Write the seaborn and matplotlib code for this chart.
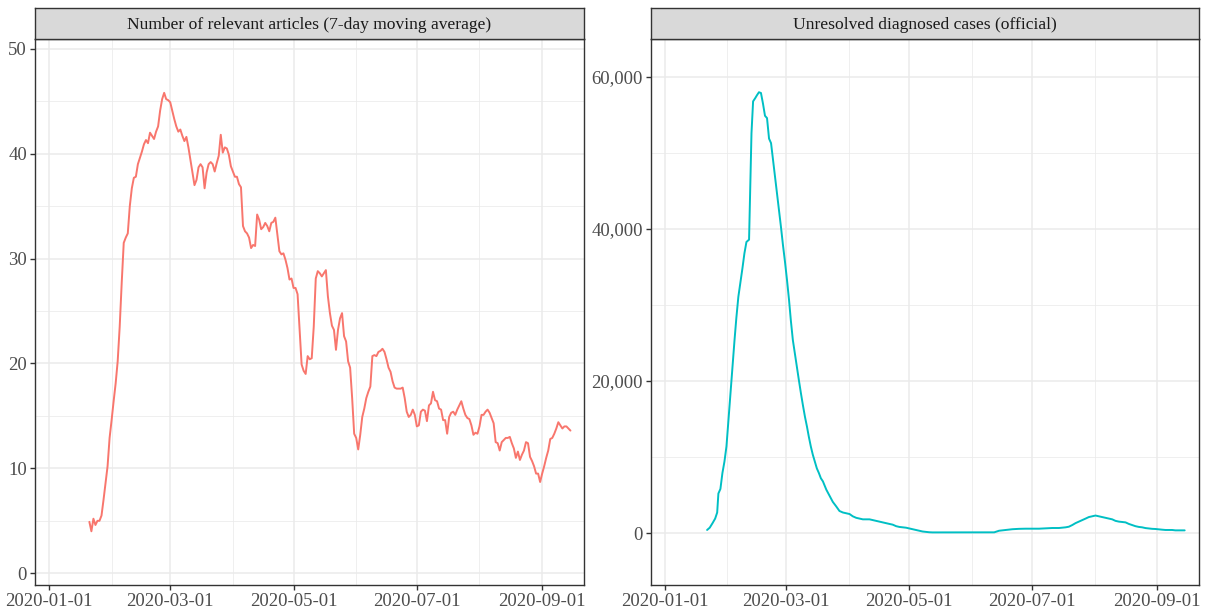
import matplotlib
matplotlib.use("Agg")
import matplotlib.pyplot as plt
import matplotlib.dates as mdates
from matplotlib.ticker import FuncFormatter, MultipleLocator
import numpy as np
import pandas as pd
import seaborn as sns

# ---- data ----
origin = pd.Timestamp("2020-01-01")

articles_first_day = "2020-01-21"
articles_avg = [
    4.9, 4.0, 5.2, 4.6, 5.0, 5.0, 5.5, 7.0, 8.6, 10.2,
    12.9, 14.6, 16.4, 18.1, 20.2, 23.5, 27.7, 31.5, 32.0, 32.4,
    35.0, 36.7, 37.7, 37.8, 39.0, 39.6, 40.2, 40.9, 41.3, 41.0,
    42.0, 41.7, 41.4, 42.1, 42.6, 44.1, 45.2, 45.8, 45.2, 45.1,
    44.9, 44.1, 43.3, 42.6, 42.1, 42.3, 41.7, 41.2, 41.6, 40.6,
    39.4, 38.2, 37.0, 37.5, 38.7, 39.0, 38.7, 36.7, 38.2, 39.0,
    39.2, 39.0, 38.3, 39.1, 39.8, 41.8, 40.1, 40.6, 40.5, 39.9,
    38.8, 38.3, 37.8, 37.8, 37.1, 36.8, 33.1, 32.6, 32.4, 32.0,
    31.0, 31.3, 31.2, 34.2, 33.7, 32.8, 33.0, 33.4, 33.1, 32.6,
    33.4, 33.5, 33.9, 32.3, 30.7, 30.4, 30.5, 29.9, 29.1, 28.0,
    28.1, 27.2, 27.2, 26.6, 23.2, 19.9, 19.3, 19.0, 20.7, 20.4,
    20.5, 23.5, 28.1, 28.8, 28.6, 28.3, 28.6, 28.9, 26.4, 24.8,
    23.6, 23.2, 21.3, 23.2, 24.3, 24.8, 22.6, 22.1, 20.2, 19.6,
    16.7, 13.3, 12.9, 11.8, 13.2, 14.9, 15.7, 16.7, 17.3, 17.8,
    20.7, 20.8, 20.7, 21.1, 21.2, 21.4, 21.1, 20.4, 19.6, 19.2,
    18.3, 17.7, 17.6, 17.6, 17.6, 17.7, 16.7, 15.4, 14.9, 15.1,
    15.6, 15.1, 14.0, 14.1, 15.4, 15.6, 15.5, 14.5, 16.0, 16.2,
    17.3, 16.5, 16.4, 15.7, 15.6, 14.6, 14.6, 13.3, 14.9, 15.3,
    15.4, 15.1, 15.6, 16.0, 16.4, 15.7, 15.1, 14.8, 14.7, 14.1,
    13.2, 13.4, 13.3, 14.0, 15.1, 15.1, 15.4, 15.6, 15.3, 14.8,
    14.3, 12.5, 12.4, 11.7, 12.5, 12.7, 12.9, 12.9, 13.0, 12.4,
    11.9, 11.0, 11.6, 10.8, 11.3, 11.7, 12.5, 12.4, 11.1, 10.7,
    10.2, 9.5, 9.5, 8.7, 9.5, 10.2, 11.0, 11.7, 12.8, 12.9,
    13.3, 13.8, 14.4, 14.1, 13.8, 14.0, 14.0, 13.8, 13.6,
]

# days after 2020-01-01 at which the case curve was read
cases_day = [
    20.9, 22.2, 23.6, 24.9, 25.9, 26.5, 27.5, 28.5, 29.5, 30.5,
    31.5, 32.5, 33.5, 34.5, 35.4, 36.4, 37.4, 38.4, 39.4, 40.4,
    41.7, 42.4, 42.9, 43.7, 44.7, 45.6, 46.6, 47.6, 48.6, 49.6,
    50.6, 51.6, 52.6, 53.5, 54.5, 55.5, 56.5, 57.5, 58.5, 59.5,
    60.5, 61.5, 62.4, 63.4, 64.4, 65.4, 66.4, 67.4, 68.4, 69.4,
    70.4, 71.3, 72.3, 73.3, 74.3, 75.3, 76.3, 77.3, 78.3,
    80.0, 81.6, 83.2, 84.9, 86.5, 88.2, 89.8, 91.5, 93.1, 94.8,
    96.4, 98.1, 99.7, 101.4, 103.0, 104.7, 106.3, 108.0, 109.6, 111.2,
    112.9, 114.6, 116.2, 117.8, 119.5, 121.1, 122.8, 124.4, 126.1, 127.7,
    129.4, 131.0, 132.7, 142.6, 152.5, 163.2, 165.6, 169.0, 172.2, 175.5,
    178.8, 182.1, 185.4, 188.7, 192.0, 195.3, 198.6, 200.2, 201.9, 203.5,
    205.2, 206.8, 208.5, 210.1, 211.8, 213.4, 215.1, 216.7, 218.4, 220.0,
    221.7, 223.3, 225.0, 226.6, 228.3, 229.9, 231.6, 233.2, 234.9, 236.5,
    238.2, 239.8, 241.5, 243.1, 244.8, 246.4, 248.1, 249.7, 251.4, 253.0,
    254.7, 256.3, 257.6,
]
cases_value = [
    400, 700, 1300, 1900, 2700, 5200, 5800, 7900, 9400, 11400,
    14900, 18400, 21900, 25400, 28300, 31100, 32900, 34800, 36800, 38300,
    38600, 46500, 52600, 56800, 57200, 57600, 58000, 57900, 56500, 54900,
    54600, 51900, 51300, 49300, 47100, 44900, 42700, 40300, 37900, 35700,
    33300, 30700, 28000, 25400, 23600, 21900, 20100, 18400, 16800, 15300,
    14000, 12700, 11400, 10300, 9400, 8500, 7900, 7200, 6800,
    5700, 4900, 4100, 3500, 2900, 2700, 2600, 2500, 2200, 2000,
    1900, 1800, 1800, 1800, 1700, 1600, 1500, 1400, 1300, 1200,
    1100, 900, 800, 750, 700, 600, 500, 400, 300, 200,
    150, 100, 80, 80, 80, 90, 300, 400, 500, 550,
    570, 570, 570, 620, 660, 660, 750, 830, 1050, 1300,
    1500, 1700, 1900, 2100, 2200, 2300, 2200, 2100, 2000, 1900,
    1800, 1600, 1500, 1450, 1400, 1200, 1050, 900, 800, 750,
    650, 600, 550, 530, 480, 440, 400, 400, 400, 350,
    350, 350, 350,
]

panel_titles = [
    "Number of relevant articles (7-day moving average)",
    "Unresolved diagnosed cases (official)",
]
line_colors = ["#F8766D", "#00BFC4"]

articles = pd.DataFrame({
    "date": pd.date_range(articles_first_day, periods=len(articles_avg), freq="D"),
    "value": articles_avg,
})
cases = pd.DataFrame({
    "date": origin + pd.to_timedelta(cases_day, unit="D"),
    "value": cases_value,
})

# ---- theme (ggplot theme_bw look) ----
sns.set_style("white")
plt.rcParams["font.family"] = ["Liberation Serif", "DejaVu Serif"]

fig = plt.figure(figsize=(12.11, 6.12), dpi=100)

W, H = 1211, 612
panel_px = [(35, 584), (651, 1199)]
top_px, bottom_px, strip_top_px = 38.5, 585, 8.3
ylims = [(-1.12, 50.98), (-6840, 65070)]
xlim = (origin + pd.Timedelta(days=-6.9), origin + pd.Timedelta(days=264.7))

frames = [articles, cases]
for i, (x0, x1) in enumerate(panel_px):
    ax = fig.add_axes([x0 / W, (H - bottom_px) / H, (x1 - x0) / W, (bottom_px - top_px) / H])
    sns.lineplot(data=frames[i], x="date", y="value", color=line_colors[i],
                 linewidth=1.4, ax=ax, zorder=3)
    ax.set_xlabel("")
    ax.set_ylabel("")
    ax.set_xlim(mdates.date2num(xlim[0]), mdates.date2num(xlim[1]))
    ax.set_ylim(*ylims[i])

    ax.xaxis.set_major_locator(mdates.MonthLocator(bymonth=[1, 3, 5, 7, 9]))
    ax.xaxis.set_minor_locator(mdates.MonthLocator(bymonth=[2, 4, 6, 8]))
    ax.xaxis.set_major_formatter(mdates.DateFormatter("%Y-%m-%d"))
    if i == 0:
        ax.yaxis.set_major_locator(MultipleLocator(10))
        ax.yaxis.set_minor_locator(MultipleLocator(5))
    else:
        ax.yaxis.set_major_locator(MultipleLocator(20000))
        ax.yaxis.set_minor_locator(MultipleLocator(10000))
        ax.yaxis.set_major_formatter(FuncFormatter(lambda v, p: f"{v:,.0f}"))

    ax.set_axisbelow(True)
    ax.grid(which="major", color="#EBEBEB", linewidth=1.1)
    ax.grid(which="minor", color="#EBEBEB", linewidth=0.55)
    ax.tick_params(which="major", direction="out", length=3.8, width=1.0,
                   color="#333333", labelcolor="#4D4D4D", labelsize=13.5, pad=2,
                   bottom=True, left=True)
    ax.tick_params(which="minor", length=0)
    for s in ax.spines.values():
        s.set_color("#333333")
        s.set_linewidth(1.0)

    strip = fig.add_axes([x0 / W, (H - top_px) / H, (x1 - x0) / W, (top_px - strip_top_px) / H])
    strip.set_facecolor("#D9D9D9")
    strip.set_xticks([])
    strip.set_yticks([])
    for s in strip.spines.values():
        s.set_color("#333333")
        s.set_linewidth(1.0)
    strip.text(0.5, 0.45, panel_titles[i], ha="center", va="center",
               fontsize=12.6, color="#1A1A1A", transform=strip.transAxes)

fig.savefig("out.png", dpi=100)
